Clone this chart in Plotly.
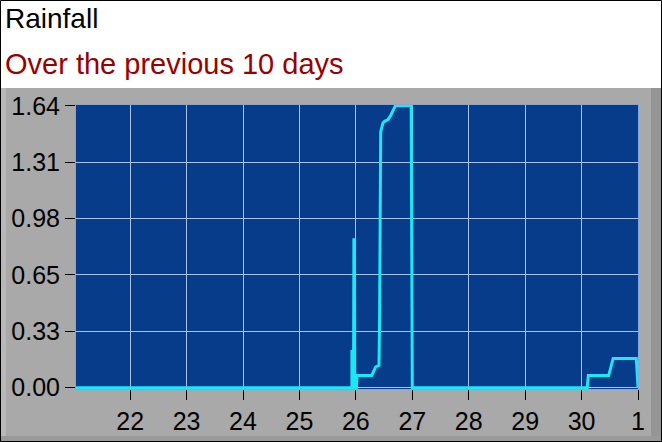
import plotly.graph_objects as go

# rainfall over the previous 10 days (x = day of month, 31 shown as "1")
days = [21.04, 25.93, 25.93, 25.96, 25.965, 25.975, 25.98, 26.01, 26.02, 26.28,
        26.35, 26.41, 26.42, 26.43, 26.44, 26.48, 26.51, 26.57, 26.61, 26.70,
        26.98, 26.985, 26.99, 27.00, 30.10, 30.12, 30.48, 30.56, 30.97, 31.0]
rain = [0.0, 0.0, 0.21, 0.21, 0.86, 0.86, 0.0, 0.0, 0.07, 0.07,
        0.12, 0.13, 0.40, 1.40, 1.49, 1.54, 1.55, 1.56, 1.58, 1.64,
        1.64, 1.23, 0.40, 0.0, 0.0, 0.07, 0.07, 0.17, 0.17, 0.0]

x_ticks = [22, 23, 24, 25, 26, 27, 28, 29, 30, 31]
x_labels = ['22', '23', '24', '25', '26', '27', '28', '29', '30', '1']
y_ticks = [0, 0.328, 0.656, 0.984, 1.312, 1.64]
y_labels = ['0.00', '0.33', '0.65', '0.98', '1.31', '1.64']

W, H = 662, 442
ML, MR, MT, MB = 76, 24, 105, 53
PW, PH = W - ML - MR, H - MT - MB


def px(x):
    return (x - ML) / PW


def py(y):
    return (H - MB - y) / PH


def rect(x0, y0, x1, y1, color):
    return dict(type='rect', xref='paper', yref='paper', layer='below',
                x0=px(x0), x1=px(x1), y0=py(y1), y1=py(y0),
                fillcolor=color, line=dict(width=0))


fig = go.Figure()
fig.add_trace(go.Scatter(x=days, y=rain, mode='lines', showlegend=False,
                         line=dict(color='#19e8f5', width=3)))

shapes = [
    rect(0, 88, W, H, '#a9a9a9'),          # grey panel
    rect(0, 88, 6, H, '#b8b8b8'),          # left bevel
    rect(651, 88, W, H, '#959595'),        # right shadow
    rect(0, 436, W, H, '#999999'),         # bottom shadow
    rect(ML, MT, W - MR, H - MB, '#063c8a'),  # plot area
    dict(type='rect', xref='paper', yref='paper', x0=px(0.5), x1=px(W - 0.5),
         y0=py(H - 0.5), y1=py(0.5), line=dict(color='black', width=1)),
]

font = 'Arial, Liberation Sans, sans-serif'
axis_style = dict(ticks='outside', ticklen=10, tickcolor='black', tickwidth=1,
                  showgrid=True, gridcolor='#a9c4ea', gridwidth=1, zeroline=False,
                  showline=True, linecolor='#7fa8e0', mirror=True, automargin=False,
                  tickfont=dict(family=font, size=25, color='black'))
fig.update_layout(
    width=W, height=H, margin=dict(l=ML, r=MR, t=MT, b=MB),
    paper_bgcolor='white', plot_bgcolor='#063c8a',
    shapes=shapes,
    annotations=[
        dict(text='Rainfall', xref='paper', yref='paper', x=px(3), y=py(19),
             xanchor='left', yanchor='middle', showarrow=False,
             font=dict(family=font, size=28, color='black')),
        dict(text='Over the previous 10 days', xref='paper', yref='paper',
             x=px(3), y=py(64), xanchor='left', yanchor='middle', showarrow=False,
             font=dict(family=font, size=29, color='#990000')),
    ],
    xaxis=dict(range=[21.04, 31.0], tickvals=x_ticks, ticktext=x_labels, **axis_style),
    yaxis=dict(range=[-0.008, 1.645], tickvals=y_ticks, ticktext=y_labels, **axis_style),
)

# the page's default body margin would shift the figure by 8px
fig.write_html("out.html", config={'displayModeBar': False},
               post_script="document.body.style.margin = '0';")
